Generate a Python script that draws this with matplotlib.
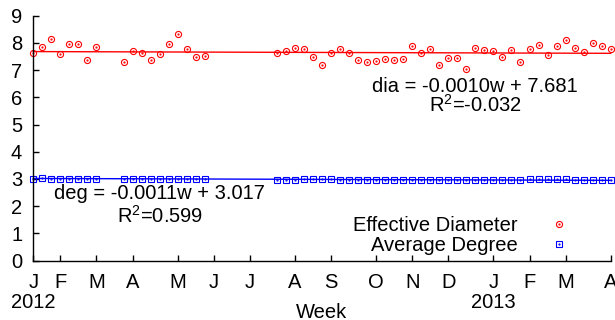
import matplotlib
matplotlib.use("Agg")
import matplotlib.pyplot as plt
from matplotlib.lines import Line2D
import numpy as np

plt.rcParams['font.family'] = ['Liberation Sans', 'DejaVu Sans']
plt.rcParams['mathtext.default'] = 'regular'
FS = 14.5

weeks = [0, 1, 2, 3, 4, 5, 6, 7,
         10, 11, 12, 13, 14, 15, 16, 17, 18, 19,
         27, 28, 29, 30, 31, 32, 33, 34, 35, 36,
         37, 38, 39, 40, 41, 42, 43, 44, 45, 46,
         47, 48, 49, 50, 51, 52, 53, 54, 55, 56,
         57, 58, 59, 60, 61, 62, 63, 64]

diameter = [7.64, 7.86, 8.14, 7.58, 7.95, 7.96, 7.36, 7.86,
            7.31, 7.69, 7.64, 7.36, 7.58, 7.95, 8.32, 7.76, 7.48, 7.52,
            7.62, 7.70, 7.81, 7.78, 7.48, 7.20, 7.62, 7.76, 7.63, 7.36,
            7.29, 7.32, 7.41, 7.37, 7.41, 7.87, 7.63, 7.79, 7.20, 7.44,
            7.44, 7.03, 7.81, 7.73, 7.70, 7.49, 7.74, 7.29, 7.76, 7.91,
            7.54, 7.88, 8.11, 7.80, 7.65, 8.00, 7.87, 7.78]

degree = [3.01, 3.02, 3.01, 3.01, 3.01, 3.01, 3.00, 3.01,
          3.00, 3.01, 3.00, 3.00, 3.01, 3.00, 3.00, 3.00, 2.99, 3.00,
          2.97, 2.97, 2.97, 2.98, 2.99, 2.99, 2.99, 2.97, 2.97, 2.97,
          2.96, 2.96, 2.96, 2.96, 2.96, 2.96, 2.96, 2.95, 2.96, 2.96,
          2.96, 2.96, 2.96, 2.96, 2.96, 2.96, 2.96, 2.97, 2.98, 2.98,
          2.98, 2.99, 2.98, 2.96, 2.96, 2.95, 2.95, 2.95]

dia_fit = (-0.0010, 7.681)
deg_fit = (-0.0011, 3.017)

month_weeks = [0, 3, 7, 11, 16, 20, 24, 29, 33, 38, 42, 46, 51, 55, 59, 64]
month_labels = ['J\n2012', 'F', 'M', 'A', 'M', 'J', 'J', 'A', 'S', 'O', 'N', 'D',
                'J\n2013', 'F', 'M', 'A']
y_ticks = [0, 1, 2, 3, 4, 5, 6, 7, 8, 9]

fig = plt.figure(figsize=(6.15, 3.2), dpi=100)
ax = fig.add_axes([33.3 / 615, 1 - 260.5 / 320, (610.7 - 33.3) / 615, (260.5 - 15.7) / 320])

RED = '#ff0000'
BLUE = '#0000ff'

xs = np.array([0, 64])
ax.plot(xs, dia_fit[0] * xs + dia_fit[1], color=RED, lw=1.0, clip_on=False)
ax.plot(xs, deg_fit[0] * xs + deg_fit[1], color=BLUE, lw=1.0, clip_on=False)

c1, = ax.plot(weeks, diameter, ls='none', marker='o', ms=4.4, mfc='none',
              mec=RED, mew=0.8, clip_on=False)
c2, = ax.plot(weeks, diameter, ls='none', marker='.', ms=1.2, color=RED, clip_on=False)
s1, = ax.plot(weeks, degree, ls='none', marker='s', ms=4.4, mfc='none',
              mec=BLUE, mew=0.8, clip_on=False)
s2, = ax.plot(weeks, degree, ls='none', marker='.', ms=1.2, color=BLUE, clip_on=False)

ax.set_xlim(0, 64)
ax.set_ylim(0, 9)
for side in ['top', 'right']:
    ax.spines[side].set_visible(False)
for side in ['left', 'bottom']:
    ax.spines[side].set_linewidth(1.0)

ax.set_yticks(y_ticks)
ax.set_yticklabels([str(v) for v in y_ticks], fontsize=FS)
ax.set_xticks(month_weeks)
ax.set_xticklabels(month_labels, fontsize=FS)
for lab in ax.get_xticklabels():
    lab.set_linespacing(1.05)
    lab.set_multialignment('center')
ax.tick_params(axis='both', direction='in', length=4, width=1.0)
ax.tick_params(axis='y', pad=8)
ax.tick_params(axis='x', pad=9)

ax.set_xlabel('Week', fontsize=FS, va='center')
ax.xaxis.set_label_coords(0.5, (260.5 - 312) / 244.8)

ax.text(49.0 / 64, 6.21 / 9, 'dia = -0.0010w + 7.681', transform=ax.transAxes,
        ha='center', va='baseline', fontsize=FS)
ax.text(49.0 / 64, 5.45 / 9, 'R$^2$=-0.032', transform=ax.transAxes,
        ha='center', va='baseline', fontsize=FS)
ax.text(14.0 / 64, 2.26 / 9, 'deg = -0.0011w + 3.017', transform=ax.transAxes,
        ha='center', va='baseline', fontsize=FS)
ax.text(14.0 / 64, 1.40 / 9, 'R$^2$=0.599', transform=ax.transAxes,
        ha='center', va='baseline', fontsize=FS)

leg = ax.legend([(c1, c2), (s1, s2)], ['Effective Diameter', 'Average Degree'],
                loc='lower right', bbox_to_anchor=(584 / 615, 1 - 255 / 320),
                bbox_transform=fig.transFigure, frameon=False, fontsize=FS,
                markerfirst=False, handlelength=2.5, handletextpad=0.8,
                labelspacing=0.05, borderpad=0, borderaxespad=0, numpoints=1)

fig.savefig('out.png', dpi=100)
